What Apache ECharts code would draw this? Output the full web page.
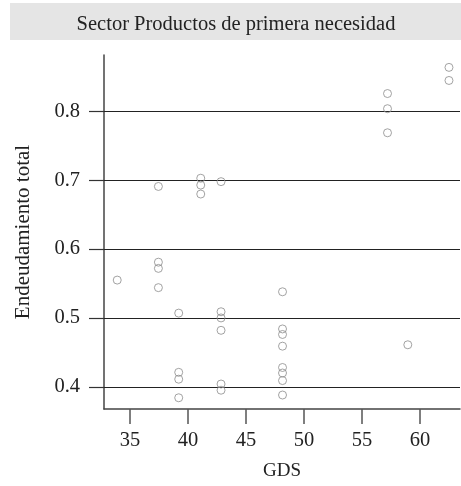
<!DOCTYPE html>
<html>
<head>
<meta charset="utf-8">
<script src="https://cdn.jsdelivr.net/npm/echarts@6/dist/echarts.min.js"></script>
<style>
html,body{margin:0;padding:0;background:#fff;}
#chart{width:461px;height:486px;}
</style>
</head>
<body>
<div id="chart"></div>
<script>
const titleText = 'Sector Productos de primera necesidad';
const xName = 'GDS';
const yName = 'Endeudamiento total';
const xTicks = [35, 40, 45, 50, 55, 60];
const yTicks = [0.4, 0.5, 0.6, 0.7, 0.8];
const gdsValues = [
  33.9,
  37.45, 37.45, 37.45, 37.45,
  39.2, 39.2, 39.2, 39.2,
  41.1, 41.1, 41.1,
  42.85, 42.85, 42.85, 42.85, 42.85, 42.85,
  48.15, 48.15, 48.15, 48.15, 48.15, 48.15, 48.15, 48.15,
  57.2, 57.2, 57.2,
  58.95,
  62.5, 62.5
];
const debtValues = [
  0.555,
  0.691, 0.581, 0.572, 0.544,
  0.507, 0.421, 0.411, 0.384,
  0.703, 0.693, 0.680,
  0.698, 0.509, 0.500, 0.482, 0.404, 0.395,
  0.538, 0.484, 0.476, 0.459, 0.428, 0.420, 0.409, 0.388,
  0.826, 0.804, 0.769,
  0.461,
  0.864, 0.845
];

const font = '"Liberation Serif", "DejaVu Serif", serif';
const points = gdsValues.map((g, i) => [g, debtValues[i]]);

const chart = echarts.init(document.getElementById('chart'), null, {renderer: 'canvas'});
chart.setOption({
  animation: false,
  backgroundColor: '#fff',
  graphic: [{
    type: 'rect', left: 10, top: 3, z: -1,
    shape: {width: 451, height: 37},
    style: {fill: '#e5e5e5'}
  }],
  title: {
    text: titleText,
    left: 231, top: 9, textAlign: 'center',
    textStyle: {fontFamily: font, fontSize: 20.5, fontWeight: 'normal', color: '#222'}
  },
  grid: {left: 104, right: 1, top: 55, bottom: 76, containLabel: false},
  xAxis: {
    type: 'value', min: 32.76, max: 63.45,
    name: xName, nameLocation: 'middle', nameGap: 53,
    nameTextStyle: {fontFamily: font, fontSize: 19, color: '#222'},
    axisLine: {show: true, lineStyle: {color: '#444', width: 1.5}},
    axisTick: {show: true, length: 15, customValues: xTicks, lineStyle: {color: '#555', width: 1.5}},
    axisLabel: {customValues: xTicks, margin: 21, fontFamily: font, fontSize: 20.5, color: '#222'},
    splitLine: {show: false}
  },
  yAxis: {
    type: 'value', min: 0.3677, max: 0.882,
    name: yName, nameLocation: 'middle', nameGap: 70, nameRotate: 90,
    nameTextStyle: {fontFamily: font, fontSize: 21, color: '#222'},
    axisLine: {show: true, lineStyle: {color: '#444', width: 1.5}},
    axisTick: {show: true, length: 15, customValues: yTicks, lineStyle: {color: '#333', width: 1.2}},
    axisLabel: {customValues: yTicks, margin: 24, fontFamily: font, fontSize: 20.5, color: '#222',
      formatter: v => v.toFixed(1)},
    splitLine: {show: false}
  },
  series: [{
    type: 'scatter',
    data: points,
    symbol: 'circle',
    symbolSize: 8,
    itemStyle: {color: 'rgba(0,0,0,0)', borderColor: '#8c8c8c', borderWidth: 1},
    z: 3,
    markLine: {
      silent: true, symbol: 'none', z: 2,
      label: {show: false},
      lineStyle: {color: '#222', width: 1.2, type: 'solid'},
      data: yTicks.map(v => ({yAxis: v}))
    }
  }]
});
</script>
</body>
</html>
